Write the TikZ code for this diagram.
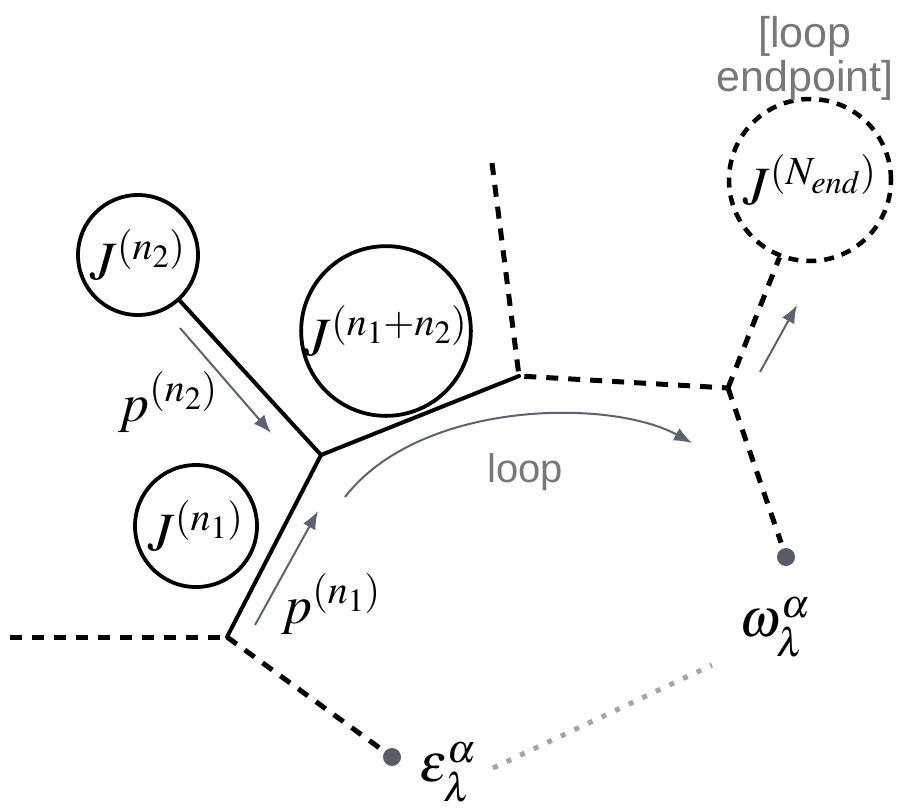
\documentclass[tikz,border=0pt]{standalone}
\usepackage{mathptmx}
\usepackage[no-math]{fontspec}
\newfontfamily\labelfont{Liberation Sans}
\usetikzlibrary{arrows.meta}
\definecolor{arrowgray}{RGB}{92,99,112}
\definecolor{dotgray}{RGB}{88,92,102}
\definecolor{textgray}{RGB}{120,120,120}
\definecolor{dotline}{RGB}{165,165,165}
\begin{document}
\begin{tikzpicture}[x=1pt,y=-1pt,
  jcirc/.style={circle,draw,line width=3.8pt,inner sep=0pt,minimum size=#1,font=\fontsize{54}{57}\selectfont\boldmath},
  jdash/.style={dash pattern=on 10pt off 8pt,line width=4.5pt},
  solidedge/.style={line width=4pt,line cap=round,line join=miter},
  dashedge/.style={line width=5pt,dash pattern=on 12pt off 10pt},
  garrow/.style={draw=arrowgray,line width=2pt,-{Latex[length=18pt,width=14pt]}},
  dotnode/.style={circle,fill=dotgray,minimum size=18pt,inner sep=0pt},
  mathlbl/.style={font=\fontsize{54}{57}\selectfont\boldmath,inner sep=0pt},
  graylbl/.style={font=\labelfont\fontsize{40}{44}\selectfont,text=textgray,inner sep=0pt},
  dottedline/.style={draw=dotline,line width=5pt,dash pattern=on 5pt off 10pt}
]
\useasboundingbox (0,0) rectangle (899,807);
% circles
\node[jcirc=120pt] (jn2) at (138,255) {$J^{(n_2)}$};
\node[jcirc=156pt] (jn12) at (386,331) {$J^{(n_1+n_2)}$};
\node[jcirc=122pt] (jn1) at (196,526) {$J^{(n_1)}$};
\node[jcirc=162pt,jdash] (jend) at (810,180) {$J^{(N_{end})}$};
% vertices
\coordinate (A) at (227,637);
\coordinate (B) at (321,455);
\coordinate (C) at (519,376);
\coordinate (D) at (728,388);
\coordinate (L) at (10,637);
\coordinate (T) at (492,163);
\node[dotnode] (eps) at (392,757) {};
\node[dotnode] (om) at (786,557) {};
% solid lines
\draw[solidedge] (jn2) -- (B);
\draw[solidedge] (A) -- (B) -- (C);
% dashed lines
\draw[dashedge] (L) -- (A);
\draw[dashedge,shorten >=4pt] (A) -- (eps);
\draw[dashedge] (T) -- (C) -- (D);
\draw[dashedge] (D) -- (jend);
\draw[dashedge,shorten >=6pt] (D) -- (om);
% gray arrows
\coordinate (p2s) at (180,328); \coordinate (p2e) at (271,433);
\coordinate (p1s) at (255,625); \coordinate (p1e) at (318,511);
\coordinate (nes) at (760,372); \coordinate (nee) at (797,305);
\coordinate (ls) at (345,497); \coordinate (le) at (692,443);
\draw[garrow] (p2s) -- (p2e);
\draw[garrow] (p1s) -- (p1e);
\draw[garrow] (nes) -- (nee);
\draw[garrow] (ls) .. controls (420,400) and (610,398) .. (le);
% dotted link
\coordinate (dl1) at (493,768); \coordinate (dl2) at (712,665);
\draw[dottedline] (dl1) -- (dl2);
% labels
\node[mathlbl] (p2) at (168,402) {$p^{(n_2)}$};
\node[mathlbl] (p1) at (331,604) {$p^{(n_1)}$};
\node[mathlbl] (oml) at (775,627) {$\omega^{\alpha}_{\lambda}$};
\node[mathlbl] (epsl) at (448,772) {$\varepsilon^{\alpha}_{\lambda}$};
\node[graylbl] (looplbl) at (525,472) {loop};
\node[graylbl,font=\labelfont\fontsize{43}{44}\selectfont,align=center] (endlbl) at (805,58) {[loop\\endpoint]};
\end{tikzpicture}
\end{document}
